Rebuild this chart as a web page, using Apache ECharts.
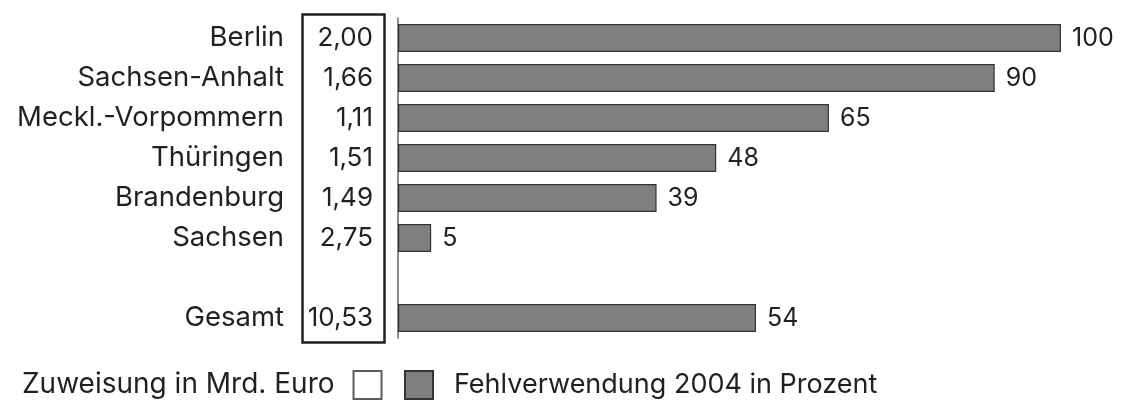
<!DOCTYPE html>
<html>
<head>
<meta charset="utf-8">
<script src="https://cdn.jsdelivr.net/npm/echarts@6/dist/echarts.min.js"></script>
<style>
  html, body { margin: 0; padding: 0; background: #fff; }
  #chart { width: 1121px; height: 403px; }
</style>
</head>
<body>
<div id="chart"></div>
<script>
// Daten
var laender = ['Berlin', 'Sachsen-Anhalt', 'Meckl.-Vorpommern', 'Thüringen', 'Brandenburg', 'Sachsen', '', 'Gesamt']
var zuweisung = [2.00, 1.66, 1.11, 1.51, 1.49, 2.75, null, 10.53]
var fehlverwendung = [100, 90, 65, 48, 39, 5, null, 54]

var nameZuweisung = 'Zuweisung in Mrd. Euro'
var nameFehl = 'Fehlverwendung 2004 in Prozent'

var zuweisungLabels = zuweisung.map(function (v) {
    return v == null ? '' : v.toFixed(2).replace('.', ',')
})

var font = 'Inter, Liberation Sans, sans-serif'
var textColor = '#231f20'

var myChart = echarts.init(document.getElementById('chart'))
option = {
    animation: false,
    grid: {
        left: 398,
        top: 18,
        width: 663,
        height: 320
    },
    legend: [
        {
            data: [nameZuweisung],
            left: 17,
            top: 365,
            align: 'right',
            icon: 'rect',
            itemWidth: 28,
            itemHeight: 28,
            textStyle: { fontSize: 28, fontFamily: font, color: textColor, padding: [0, 14, 0, 0] }
        },
        {
            data: [nameFehl],
            left: 399,
            top: 365,
            align: 'left',
            icon: 'rect',
            itemWidth: 28,
            itemHeight: 28,
            textStyle: { fontSize: 27, fontFamily: font, color: textColor, padding: [0, 0, 0, 16] }
        }
    ],
    xAxis: {
        type: 'value',
        min: 0,
        max: 100,
        show: false
    },
    yAxis: [
        {
            type: 'category',
            inverse: true,
            data: laender,
            axisLine: { show: true, lineStyle: { color: '#666', width: 1.5 } },
            axisTick: { show: false },
            axisLabel: { margin: 114, fontSize: 27.5, fontFamily: font, color: textColor }
        },
        {
            type: 'category',
            position: 'left',
            inverse: true,
            data: zuweisungLabels,
            axisLine: { show: false },
            axisTick: { show: false },
            axisLabel: { margin: 25, fontSize: 26, fontFamily: font, color: textColor }
        }
    ],
    graphic: [
        {
            type: 'rect',
            left: 300,
            top: 12,
            shape: { width: 82, height: 328 },
            style: { fill: 'none', stroke: '#231f20', lineWidth: 2.5 }
        }
    ],
    series: [
        {
            name: nameFehl,
            type: 'bar',
            barWidth: 28,
            data: fehlverwendung,
            itemStyle: { color: '#7f7f80', borderColor: '#333', borderWidth: 1.2 },
            label: {
                show: true,
                position: 'right',
                distance: 11,
                fontSize: 25,
                fontFamily: font,
                color: textColor
            }
        },
        {
            name: nameZuweisung,
            type: 'scatter',
            data: [],
            itemStyle: { color: '#fff', borderColor: '#333', borderWidth: 1.5 }
        }
    ]
}
myChart.setOption(option)
</script>
</body>
</html>
